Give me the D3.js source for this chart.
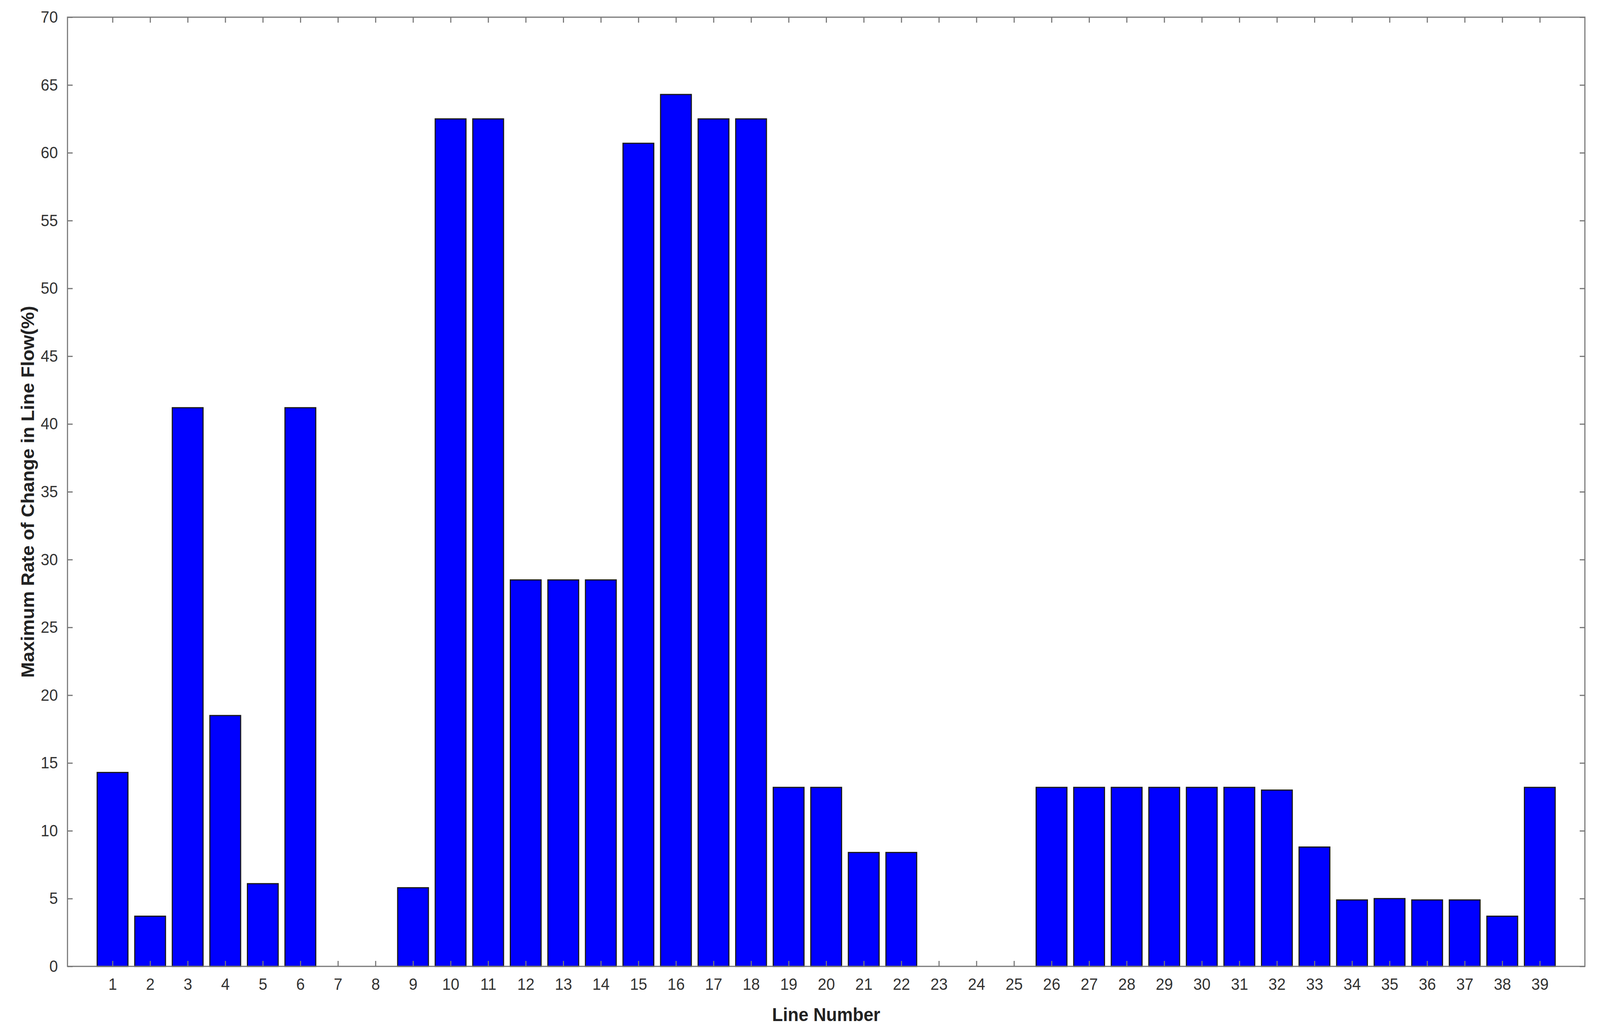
<!DOCTYPE html>
<html><head><meta charset="utf-8">
<script src="https://cdn.jsdelivr.net/npm/d3@7"></script>
<style>html,body{margin:0;background:#fff;overflow:hidden}svg{display:block;width:100vw;height:100vh}</style>
</head><body>
<script>
const lineNumbers = d3.range(1, 40);
const rateValues = [14.3, 3.7, 41.2, 18.5, 6.1, 41.2, 0, 0, 5.8, 62.5, 62.5, 28.5, 28.5, 28.5, 60.7, 64.3, 62.5, 62.5, 13.2, 13.2, 8.4, 8.4, 0, 0, 0, 13.2, 13.2, 13.2, 13.2, 13.2, 13.2, 13.0, 8.8, 4.9, 5.0, 4.9, 4.9, 3.7, 13.2];
const yTicks = d3.range(0, 71, 5);

const W = 4338, H = 2642;
const m = {l:183, r:4297, t:44, b:2474};
const svg = d3.select("body").append("svg").attr("viewBox", `0 0 ${W} ${H}`).attr("preserveAspectRatio","none");
const x = d3.scaleLinear().domain([-0.2, 40.2]).range([m.l, m.r]);
const y = d3.scaleLinear().domain([0, 70]).range([m.b, m.t]);
const bw = (x(1) - x(0)) * 0.82;

svg.append("g").selectAll("rect").data(lineNumbers).join("rect")
  .attr("x", d => x(d) - bw/2).attr("width", bw)
  .attr("y", (d,i) => y(rateValues[i])).attr("height", (d,i) => y(0) - y(rateValues[i]))
  .attr("fill", "#0000ff").attr("stroke", "#1a1a1a").attr("stroke-width", 3);

const font = "Arial, 'Liberation Sans', sans-serif";
const tl = 14;
function style(g){
  g.select(".domain").remove();
  g.selectAll("line").attr("stroke","#777").attr("stroke-width",3);
  g.selectAll("text").attr("fill","#333").attr("font-size",42).attr("font-family",font);
}
svg.append("g").attr("transform",`translate(0,${m.b})`)
  .call(d3.axisBottom(x).tickValues(lineNumbers).tickFormat(d3.format("d")).tickSizeInner(-tl).tickPadding(30)).call(style);
svg.append("g").attr("transform",`translate(0,${m.t})`)
  .call(d3.axisTop(x).tickValues(lineNumbers).tickSizeInner(-tl).tickFormat("")).call(style);
svg.append("g").attr("transform",`translate(${m.l},0)`)
  .call(d3.axisLeft(y).tickValues(yTicks).tickSizeInner(-tl).tickPadding(26)).call(style);
svg.append("g").attr("transform",`translate(${m.r},0)`)
  .call(d3.axisRight(y).tickValues(yTicks).tickSizeInner(-tl).tickFormat("")).call(style);

svg.append("rect").attr("x",m.l).attr("y",m.t).attr("width",m.r-m.l).attr("height",m.b-m.t)
  .attr("fill","none").attr("stroke","#777").attr("stroke-width",3);

svg.append("text").attr("x",(m.l+m.r)/2).attr("y",2614).attr("text-anchor","middle")
  .attr("font-family",font).attr("font-weight","bold").attr("font-size",48).attr("fill","#222").text("Line Number");
svg.append("text").attr("transform",`translate(92,${(m.t+m.b)/2}) rotate(-90)`).attr("text-anchor","middle")
  .attr("font-family",font).attr("font-weight","bold").attr("font-size",48).attr("fill","#222").text("Maximum Rate of Change in Line Flow(%)");
</script>
</body></html>
